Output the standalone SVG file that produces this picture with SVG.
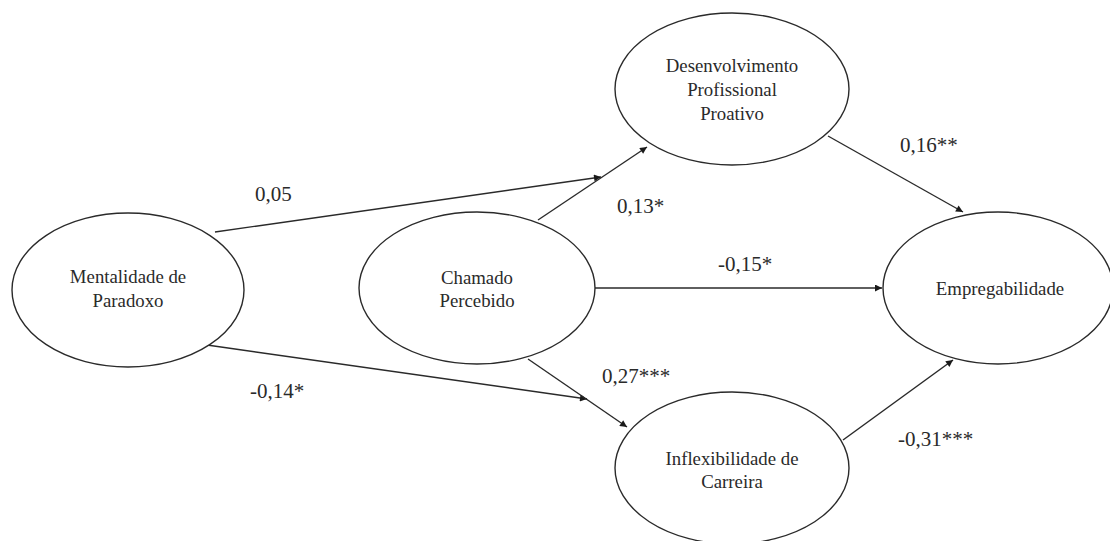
<svg xmlns="http://www.w3.org/2000/svg" width="1110" height="541" viewBox="0 0 1110 541">
<defs>
<marker id="ah" viewBox="0 0 10 10" refX="10" refY="5" markerWidth="9" markerHeight="7" markerUnits="userSpaceOnUse" orient="auto">
<path d="M0,0 L10,5 L0,10 z" fill="#1a1a1a"/>
</marker>
<style>
.node ellipse{fill:#fff;stroke:#2a2a2a;stroke-width:1.4}
.node text{font-size:18.8px;fill:#2a2a2a;text-anchor:middle}
.edges line{stroke:#2a2a2a;stroke-width:1.4;marker-end:url(#ah)}
.lbl{font-size:21px;fill:#2a2a2a}
</style>
</defs>
<rect width="1110" height="541" fill="#fff"/>
<g class="edges">
<line x1="215" y1="232" x2="601" y2="177"/>
<line x1="538" y1="220" x2="647" y2="147"/>
<line x1="207" y1="345" x2="587" y2="399"/>
<line x1="528" y1="359" x2="627" y2="427"/>
<line x1="828" y1="136" x2="963" y2="212"/>
<line x1="595" y1="288" x2="882" y2="288"/>
<line x1="843" y1="440" x2="953" y2="360"/>
</g>
<g font-family="Liberation Serif, DejaVu Serif, serif">
<g id="n-mentalidade" class="node">
<ellipse cx="128" cy="290" rx="116" ry="77"/>
<text x="128" y="283">Mentalidade de</text>
<text x="128" y="307">Paradoxo</text>
</g>
<g id="n-chamado" class="node">
<ellipse cx="477" cy="288" rx="118" ry="76"/>
<text x="477" y="284">Chamado</text>
<text x="477" y="307">Percebido</text>
</g>
<g id="n-desenvolvimento" class="node">
<ellipse cx="732" cy="89" rx="117" ry="76"/>
<text x="732" y="72">Desenvolvimento</text>
<text x="732" y="96">Profissional</text>
<text x="732" y="120">Proativo</text>
</g>
<g id="n-empregabilidade" class="node">
<ellipse cx="998" cy="288" rx="115" ry="76"/>
<text x="1000" y="295">Empregabilidade</text>
</g>
<g id="n-inflexibilidade" class="node">
<ellipse cx="732" cy="468" rx="117" ry="76"/>
<text x="732" y="465">Inflexibilidade de</text>
<text x="732" y="488">Carreira</text>
</g>
<g id="labels">
<text class="lbl" x="255" y="201">0,05</text>
<text class="lbl" x="617" y="213">0,13*</text>
<text class="lbl" x="718" y="271">-0,15*</text>
<text class="lbl" x="602" y="383">0,27***</text>
<text class="lbl" x="250" y="398">-0,14*</text>
<text class="lbl" x="900" y="152">0,16**</text>
<text class="lbl" x="898" y="446">-0,31***</text>
</g>
</g>
</svg>
